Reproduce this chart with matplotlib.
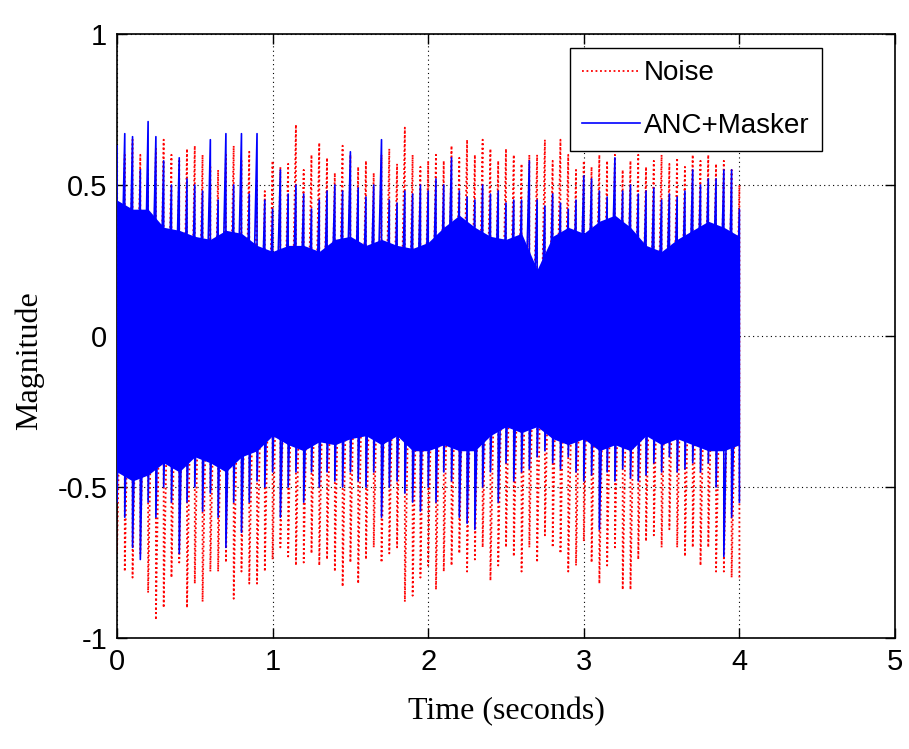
import numpy as np
import matplotlib
matplotlib.use("Agg")
import matplotlib.pyplot as plt

plt.rcParams['font.family'] = ['Liberation Sans', 'DejaVu Sans']

# ---- data (seconds / magnitude) ----
t_fine = np.round(np.arange(0, 4.0001, 0.05), 2)   # 81 sample columns
t_core = np.round(np.arange(0, 4.0001, 0.1), 2)    # 41 core columns

noise_hi = [0.58, 0.60, 0.65, 0.60, 0.55, 0.62, 0.65, 0.60, 0.58, 0.62,
            0.63, 0.60, 0.56, 0.55, 0.60, 0.63, 0.58, 0.61, 0.52, 0.48,
            0.58, 0.56, 0.57, 0.70, 0.55, 0.60, 0.64, 0.59, 0.54, 0.63,
            0.60, 0.56, 0.58, 0.54, 0.60, 0.62, 0.57, 0.69, 0.60, 0.56,
            0.58, 0.60, 0.58, 0.63, 0.59, 0.65, 0.60, 0.65, 0.62, 0.58,
            0.62, 0.60, 0.57, 0.60, 0.60, 0.65, 0.58, 0.65, 0.60, 0.55,
            0.58, 0.56, 0.60, 0.58, 0.60, 0.55, 0.58, 0.60, 0.56, 0.58,
            0.60, 0.57, 0.59, 0.56, 0.60, 0.58, 0.60, 0.57, 0.58, 0.55,
            0.50]
noise_lo = [-0.72, -0.78, -0.80, -0.72, -0.85, -0.94, -0.90, -0.80, -0.75, -0.90,
            -0.82, -0.88, -0.78, -0.78, -0.75, -0.87, -0.78, -0.82, -0.82, -0.78,
            -0.74, -0.70, -0.73, -0.76, -0.75, -0.72, -0.76, -0.74, -0.78, -0.83,
            -0.75, -0.82, -0.74, -0.70, -0.75, -0.72, -0.70, -0.88, -0.86, -0.80,
            -0.76, -0.84, -0.78, -0.76, -0.72, -0.78, -0.74, -0.70, -0.81, -0.76,
            -0.70, -0.73, -0.78, -0.70, -0.75, -0.66, -0.70, -0.72, -0.78, -0.76,
            -0.68, -0.75, -0.82, -0.76, -0.70, -0.84, -0.84, -0.74, -0.68, -0.66,
            -0.70, -0.64, -0.70, -0.73, -0.70, -0.76, -0.70, -0.78, -0.78, -0.80,
            -0.80]
anc_hi = [0.63, 0.67, 0.66, 0.55, 0.71, 0.66, 0.58, 0.50, 0.59, 0.52,
          0.50, 0.48, 0.65, 0.45, 0.67, 0.50, 0.67, 0.47, 0.67, 0.45,
          0.42, 0.55, 0.47, 0.50, 0.47, 0.42, 0.45, 0.48, 0.50, 0.48,
          0.61, 0.49, 0.46, 0.50, 0.65, 0.45, 0.44, 0.48, 0.47, 0.50,
          0.48, 0.52, 0.50, 0.59, 0.48, 0.46, 0.45, 0.50, 0.47, 0.48,
          0.44, 0.45, 0.45, 0.58, 0.45, 0.43, 0.47, 0.44, 0.42, 0.45,
          0.53, 0.52, 0.48, 0.46, 0.59, 0.48, 0.50, 0.47, 0.48, 0.49,
          0.45, 0.47, 0.46, 0.48, 0.55, 0.50, 0.52, 0.52, 0.55, 0.55,
          0.42]
anc_lo = [-0.55, -0.60, -0.70, -0.74, -0.55, -0.60, -0.50, -0.55, -0.72, -0.55,
          -0.50, -0.58, -0.52, -0.60, -0.70, -0.55, -0.65, -0.55, -0.48, -0.50,
          -0.45, -0.60, -0.50, -0.45, -0.55, -0.45, -0.50, -0.45, -0.48, -0.50,
          -0.45, -0.48, -0.50, -0.45, -0.60, -0.50, -0.48, -0.52, -0.55, -0.58,
          -0.50, -0.55, -0.45, -0.48, -0.60, -0.62, -0.64, -0.50, -0.45, -0.55,
          -0.42, -0.48, -0.45, -0.44, -0.40, -0.38, -0.42, -0.44, -0.40, -0.45,
          -0.48, -0.46, -0.64, -0.45, -0.48, -0.44, -0.47, -0.48, -0.46, -0.42,
          -0.45, -0.40, -0.45, -0.44, -0.42, -0.45, -0.42, -0.50, -0.73, -0.60,
          -0.55]
core_hi = [0.45, 0.42, 0.42, 0.36, 0.35, 0.33, 0.32, 0.35, 0.34, 0.30,
           0.28, 0.30, 0.30, 0.28, 0.32, 0.33, 0.30, 0.32, 0.30, 0.29,
           0.31, 0.36, 0.40, 0.36, 0.33, 0.32, 0.34, 0.22, 0.33, 0.36,
           0.34, 0.38, 0.40, 0.36, 0.30, 0.28, 0.32, 0.35, 0.38, 0.36,
           0.33]
core_lo = [-0.45, -0.48, -0.46, -0.42, -0.45, -0.40, -0.42, -0.45, -0.40, -0.38,
           -0.33, -0.36, -0.38, -0.35, -0.36, -0.34, -0.33, -0.36, -0.33, -0.38,
           -0.38, -0.36, -0.38, -0.38, -0.33, -0.30, -0.32, -0.30, -0.34, -0.36,
           -0.34, -0.38, -0.36, -0.38, -0.33, -0.36, -0.34, -0.36, -0.38, -0.38,
           -0.36]

x_ticks = [0, 1, 2, 3, 4, 5]
y_ticks = [-1, -0.5, 0, 0.5, 1]
y_tick_labels = ['-1', '-0.5', '0', '0.5', '1']
series_labels = ['Noise', 'ANC+Masker']

# waveform drawn through the read extremes (peak, trough, next peak, ...)
wave_t = np.repeat(t_fine, 2)
noise_wave = np.column_stack([noise_hi, noise_lo]).ravel()
anc_wave = np.column_stack([anc_hi, anc_lo]).ravel()

# ---- figure ----
fig = plt.figure(figsize=(9.09, 7.49), dpi=100)
ax = fig.add_axes([0.1287, 0.1482, 0.8559, 0.8064])

ax.plot(wave_t, noise_wave, color='red', linestyle=(0, (1, 1.5)),
        linewidth=1.3, zorder=2, label=series_labels[0])
ax.fill_between(t_core, core_lo, core_hi, color='blue', lw=0, zorder=3)
ax.plot(wave_t, anc_wave, color='blue', linewidth=1.2, zorder=3,
        label=series_labels[1])

ax.set_xlim(0, 5)
ax.set_ylim(-1, 1)
ax.set_xticks(x_ticks)
ax.set_xticklabels([str(v) for v in x_ticks])
ax.set_yticks(y_ticks)
ax.set_yticklabels(y_tick_labels)

ax.set_axisbelow(True)
ax.grid(True, color='black', linestyle=(0, (1, 3)), linewidth=0.8)
ax.tick_params(direction='in', top=True, right=True, length=7, width=1,
               labelsize=21, pad=7)
for sp in ax.spines.values():
    sp.set_linewidth(1.2)

ax.set_xlabel('Time (seconds)', family='Liberation Serif', fontsize=23)
ax.xaxis.set_label_coords(0.5, -0.1225)
ax.xaxis.label.set_va('center')
ax.set_ylabel('Magnitude', family='Liberation Serif', fontsize=23)
ax.yaxis.set_label_coords(-0.112, 0.46)
ax.yaxis.label.set_va('center')

leg = ax.legend(loc='upper right', bbox_to_anchor=(0.906, 0.977),
                fancybox=False, edgecolor='black', framealpha=1, fontsize=20,
                handlelength=2.1, handletextpad=0.12, borderpad=0.45,
                labelspacing=0.95, borderaxespad=0)
leg.get_frame().set_linewidth(1.0)

fig.savefig('out.png', dpi=100)
